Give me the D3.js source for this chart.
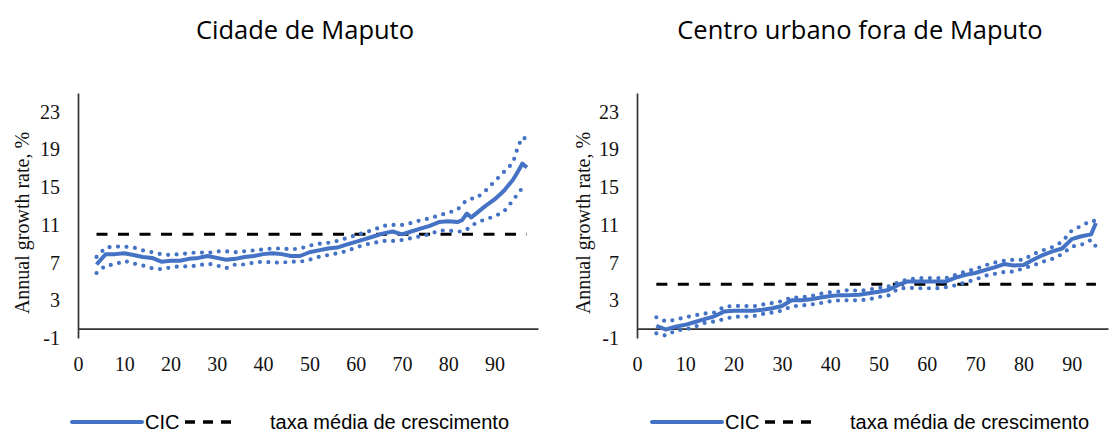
<!DOCTYPE html>
<html>
<head>
<meta charset="utf-8">
<script src="https://cdn.jsdelivr.net/npm/d3@7"></script>
<style>
  body { margin: 0; background: #fff; }
</style>
</head>
<body>
<svg id="chart" width="1109" height="432"></svg>
<script>
// percentiles of per-capita consumption (x) and growth rates, % (y)
const pctLeft = [4, 6, 8, 10, 12, 14, 16, 18, 20, 22, 24, 26, 28, 30, 32, 34, 36, 38, 40, 42, 44, 46, 48, 50,
  52, 54, 56, 58, 60, 62, 64, 66, 68, 70, 72, 74, 76, 78, 80, 82, 83, 84, 85, 86, 88, 90, 92, 94, 95, 96, 97];
const cicLeft = [6.8, 7.9, 7.9, 8.0, 7.8, 7.6, 7.5, 7.1, 7.2, 7.2, 7.4, 7.5, 7.7, 7.5, 7.3, 7.4, 7.6, 7.7, 7.9, 8.0, 7.9, 7.7, 7.7, 8.1,
  8.3, 8.5, 8.6, 8.9, 9.2, 9.5, 9.8, 10.1, 10.3, 10.0, 10.3, 10.6, 10.9, 11.3, 11.4, 11.3, 11.5, 12.2, 11.8, 12.2, 13.0, 13.7, 14.6, 15.8, 16.6, 17.5, 17.1];
const upperLeft = [7.6, 8.6, 8.7, 8.7, 8.6, 8.3, 8.1, 7.9, 7.8, 7.9, 8.0, 8.1, 8.0, 8.2, 8.2, 8.1, 8.2, 8.3, 8.4, 8.5, 8.5, 8.4, 8.5, 8.8,
  9.0, 9.1, 9.3, 9.6, 9.9, 10.2, 10.5, 10.9, 11.0, 11.0, 11.2, 11.5, 11.7, 12.0, 12.3, 12.6, 13.2, 13.6, 13.8, 13.8, 14.6, 15.6, 16.6, 17.6, 19.2, 20.3, 20.1];
const lowerLeft = [5.9, 6.7, 6.8, 7.2, 6.9, 6.7, 6.4, 6.3, 6.5, 6.6, 6.6, 6.7, 6.9, 6.7, 6.4, 6.8, 6.8, 7.0, 7.1, 7.0, 7.0, 7.1, 7.1, 7.3,
  7.6, 7.8, 8.0, 8.2, 8.6, 8.9, 9.1, 9.3, 9.3, 9.4, 9.6, 9.8, 10.0, 10.4, 10.4, 10.3, 10.3, 10.5, 10.9, 11.2, 11.6, 11.9, 12.4, 13.6, 14.3, 14.9, 15.2];
const meanLeft = 10.0;

const pctRight = [4, 6, 8, 10, 12, 14, 16, 18, 20, 22, 24, 26, 28, 30, 32, 34, 36, 38, 40, 42, 44, 46, 48, 50,
  52, 54, 56, 58, 60, 62, 64, 66, 68, 70, 72, 74, 76, 78, 80, 82, 84, 86, 88, 90, 92, 94, 95];
const cicRight = [0.3, -0.1, 0.2, 0.4, 0.7, 1.0, 1.3, 1.8, 1.9, 1.9, 1.9, 2.0, 2.15, 2.4, 3.0, 3.0, 3.1, 3.3, 3.45, 3.55, 3.55, 3.6, 3.75, 3.9,
  4.1, 4.6, 5.0, 5.0, 5.0, 5.0, 5.0, 5.4, 5.7, 5.9, 6.2, 6.5, 6.85, 6.7, 6.75, 7.3, 7.8, 8.2, 8.5, 9.5, 9.8, 10.0, 11.2];
const upperRight = [1.2, 0.75, 0.95, 1.2, 1.4, 1.6, 1.7, 2.3, 2.4, 2.4, 2.35, 2.55, 2.7, 2.9, 3.3, 3.3, 3.45, 3.7, 3.85, 3.95, 4.1, 4.0, 4.15, 4.3,
  4.45, 4.9, 5.2, 5.35, 5.35, 5.35, 5.35, 5.7, 6.05, 6.3, 6.7, 7.0, 7.2, 7.3, 7.3, 7.9, 8.3, 8.65, 9.2, 10.4, 10.9, 11.45, 11.4];
const lowerRight = [-0.5, -0.75, -0.2, -0.1, 0.2, 0.6, 0.75, 1.0, 1.26, 1.26, 1.3, 1.55, 1.7, 1.9, 2.35, 2.45, 2.55, 2.7, 2.9, 3.0, 3.0, 3.0, 3.1, 3.35,
  3.5, 4.2, 4.35, 4.28, 4.28, 4.28, 4.4, 4.6, 4.9, 5.2, 5.6, 5.8, 6.0, 6.05, 6.4, 6.7, 7.1, 7.4, 7.9, 8.7, 8.9, 9.4, 8.7];
const meanRight = 4.7;

const titles = ["Cidade de Maputo", "Centro urbano fora de Maputo"];
const yTicks = [-1, 3, 7, 11, 15, 19, 23];
const xTicks = [0, 10, 20, 30, 40, 50, 60, 70, 80, 90];
const yLabel = "Annual growth rate, %";
const legendLabels = ["CIC", "taxa média de crescimento"];

const blue = "#4472C4";
const serif = "'Liberation Serif', 'Times New Roman', serif";

const svg = d3.select("#chart");

function drawPanel(cfg) {
  let x = d3.scaleLinear().domain([0, cfg.xMax]).range([cfg.left, cfg.right]);
  let y = d3.scaleLinear().domain([-1, 25]).range([338, 93]);

  let g = svg.append("g");

  // title
  g.append("text")
    .attr("x", cfg.titleX)
    .attr("y", 39)
    .attr("text-anchor", "middle")
    .style("font-family", "'Open Sans', sans-serif")
    .style("font-size", "25.5px")
    .text(cfg.title);

  // y axis, labels only (plain hyphen for -1)
  let yAxis = g.append("g")
    .attr("transform", `translate(${cfg.left},0)`)
    .call(d3.axisLeft(y).tickValues(yTicks).tickSize(0).tickPadding(18).tickFormat(d => String(d)));

  // x axis sits at zero
  let xAxis = g.append("g")
    .attr("transform", `translate(0,${y(0)})`)
    .call(d3.axisBottom(x).tickValues(xTicks).tickSize(0).tickPadding(28));

  [yAxis, xAxis].forEach(a => {
    a.select(".domain").attr("stroke", "#333").attr("stroke-width", 1.7);
    a.selectAll("text")
      .style("font-family", serif)
      .style("font-size", "20px")
      .attr("fill", "#111");
  });

  g.append("text")
    .attr("transform", `translate(${cfg.yLabelX},${223}) rotate(-90)`)
    .attr("text-anchor", "middle")
    .style("font-family", serif)
    .style("font-size", "20px")
    .attr("fill", "#111")
    .text(yLabel);

  let pts = cfg.pct.map((p, i) => ({ p, cic: cfg.cic[i], up: cfg.upper[i], lo: cfg.lower[i] }));

  // mean growth line
  g.append("line")
    .attr("x1", x(cfg.pct[0]))
    .attr("x2", x(cfg.pct[cfg.pct.length - 1]))
    .attr("y1", y(cfg.mean))
    .attr("y2", y(cfg.mean))
    .attr("stroke", "#000")
    .attr("stroke-width", 3)
    .attr("stroke-dasharray", "11 10.5");

  // confidence bands as dotted lines
  ["up", "lo"].forEach(k => {
    g.append("path")
      .datum(pts)
      .attr("fill", "none")
      .attr("stroke", blue)
      .attr("stroke-width", 4.2)
      .attr("stroke-linecap", "round")
      .attr("stroke-dasharray", "0 8.5")
      .attr("d", d3.line().x(d => x(d.p)).y(d => y(d[k])));
  });

  g.append("path")
    .datum(pts)
    .attr("fill", "none")
    .attr("stroke", blue)
    .attr("stroke-width", 4)
    .attr("stroke-linejoin", "round")
    .attr("d", d3.line().x(d => x(d.p)).y(d => y(d.cic)));

  // legend
  let lg = g.append("g").attr("transform", `translate(${cfg.legendX},422)`);
  lg.append("line")
    .attr("x1", 0).attr("x2", 70)
    .attr("stroke", blue).attr("stroke-width", 4).attr("stroke-linecap", "round");
  lg.append("text")
    .attr("x", 73).attr("y", 7)
    .style("font-family", "'Liberation Sans', Arial, sans-serif")
    .style("font-size", "20px")
    .text(legendLabels[0]);
  lg.append("line")
    .attr("x1", 113).attr("x2", 161)
    .attr("stroke", "#000").attr("stroke-width", 3.5)
    .attr("stroke-dasharray", "10 8");
  lg.append("text")
    .attr("x", 198).attr("y", 7)
    .style("font-family", "'Liberation Sans', Arial, sans-serif")
    .style("font-size", "20px")
    .text(legendLabels[1]);
}

drawPanel({
  title: titles[0], titleX: 305, left: 78, right: 538, xMax: 99.4, yLabelX: 29, legendX: 72,
  pct: pctLeft, cic: cicLeft, upper: upperLeft, lower: lowerLeft, mean: meanLeft
});
drawPanel({
  title: titles[1], titleX: 860, left: 637, right: 1108, xMax: 97.5, yLabelX: 590, legendX: 652,
  pct: pctRight, cic: cicRight, upper: upperRight, lower: lowerRight, mean: meanRight
});
</script>
</body>
</html>
